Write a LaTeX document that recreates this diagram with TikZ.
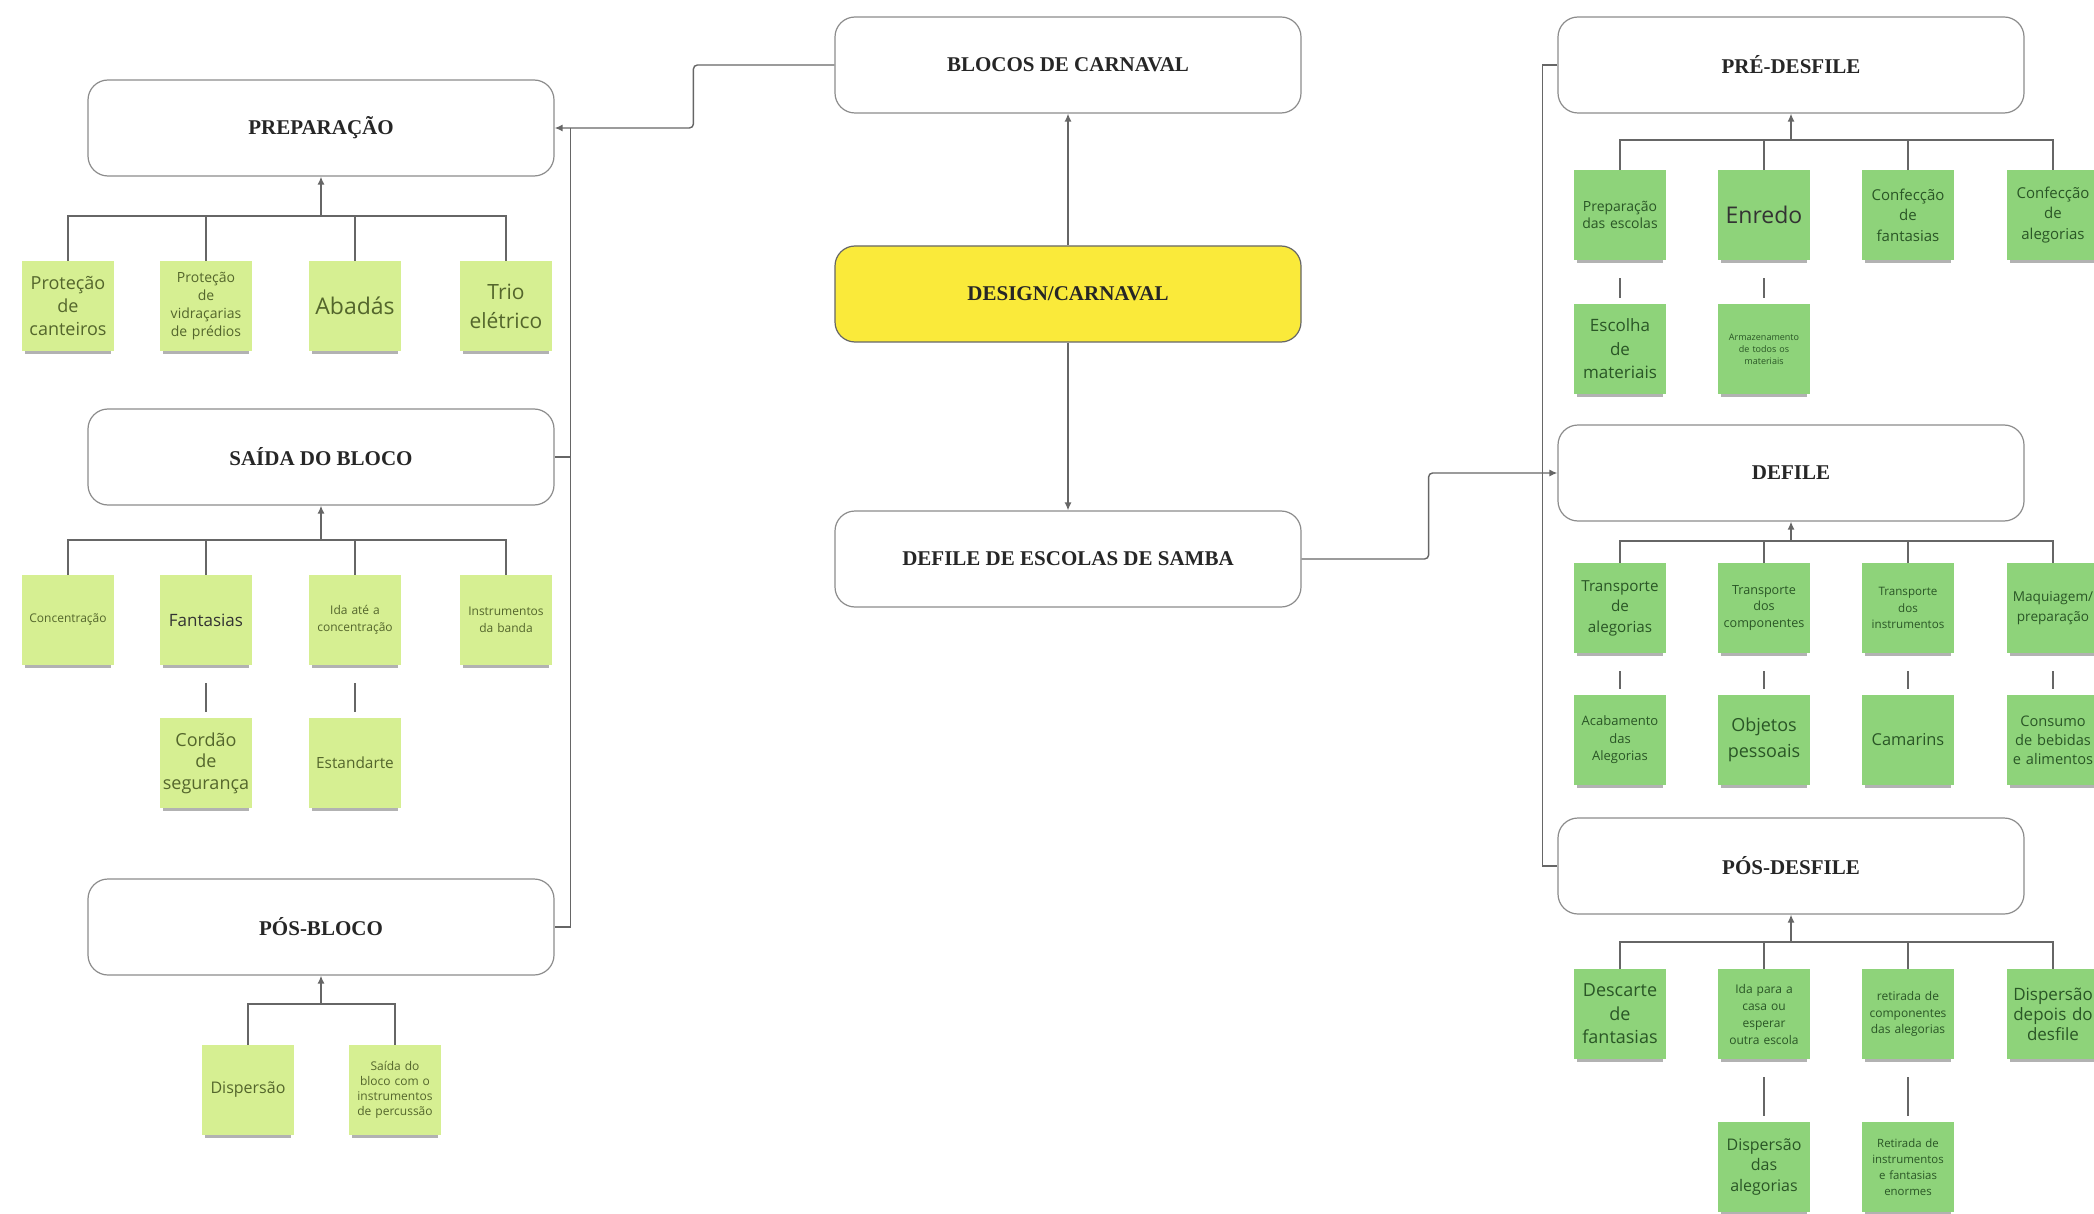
\documentclass[tikz,border=0pt]{standalone}
\usepackage{fontspec}
\setmainfont{Liberation Serif}
\newfontfamily\stickfont{Open Sans}
\usetikzlibrary{arrows.meta,positioning,shadows}

\definecolor{hubyellow}{RGB}{250,234,58}
\definecolor{limefill}{RGB}{214,239,146}
\definecolor{leaffill}{RGB}{142,211,122}
\definecolor{limetext}{RGB}{84,102,44}
\definecolor{leaftext}{RGB}{42,86,38}

\begin{document}
\begin{tikzpicture}[x=0.5pt,y=-0.5pt]
	\tikzstyle{hdr}=[draw=black!45, line width=0.6pt, rounded corners=10pt, fill=white, minimum width=233pt, minimum height=48pt, font=\fontsize{10.5}{12}\selectfont\bfseries, text=black!85]
	\tikzstyle{hub}=[hdr, fill=hubyellow, draw=black!60]
	\tikzstyle{note}=[minimum width=46pt, minimum height=45pt, text width=45pt, align=center, inner sep=0.5pt, general shadow={shadow yshift=-3pt, shadow scale=0.94, fill=black, opacity=0.3}]
	\tikzstyle{limenote}=[note, fill=limefill, text=limetext]
	\tikzstyle{leafnote}=[note, fill=leaffill, text=leaftext]
	\tikzstyle{conn}=[draw=black!60, line width=0.7pt]
	\tikzstyle{trig}=[conn, -{Latex[length=4pt,width=3.5pt]}]
	\tikzstyle{stub}=[conn, shorten <=9pt, shorten >=3pt]
	\tikzset{sz/.style 2 args={font=\stickfont\fontsize{#1}{#2}\selectfont}}

	\useasboundingbox (0,0) rectangle (2094,1214);

	% centre
	\node[hdr] (blocos) at (1068,65) {BLOCOS DE CARNAVAL};
	\node[hub] (design) at (1068,294) {DESIGN/CARNAVAL};
	\node[hdr] (desfesc) at (1068,559) {DEFILE DE ESCOLAS DE SAMBA};
	\draw[trig] (design) -- (blocos);
	\draw[trig] (design) -- (desfesc);

	% blocos
	\node[hdr] (prep) at (321,128) {PREPARAÇÃO};
	\node[hdr] (saida) at (321,457) {SAÍDA DO BLOCO};
	\node[hdr] (posb) at (321,927) {PÓS-BLOCO};
	\draw[trig, rounded corners=2pt] (blocos.west) -- ++(-141,0) |- (prep.east);
	\draw[conn] (prep.east) ++(16,0) |- (posb.east);
	\draw[conn] (saida.east) -- ++(16,0);

	\node[limenote, sz={9}{11.7}] (p1) at (68,306) {Proteção\\de\\canteiros};
	\node[limenote, sz={7}{9}] (p2) at (206,306) {Proteção\\de\\vidraçarias\\de prédios};
	\node[limenote, sz={11.5}{15}] (p3) at (355,306) {Abadás};
	\node[limenote, sz={10.5}{14.5}] (p4) at (506,306) {Trio\\elétrico};
	\coordinate (pbus) at (321,216);
	\draw[conn] (p1.north) |- (pbus) -| (p4.north);
	\foreach \n in {p2,p3} \draw[conn] (\n.north) -- (\n.north |- pbus);
	\draw[trig] (pbus) -- (prep.south);

	\node[limenote, sz={6}{8}] (s1) at (68,620) {Concentração};
	\node[limenote, sz={8.5}{11}, text=black!80] (s2) at (206,620) {Fantasias};
	\node[limenote, sz={6}{8.3}] (s3) at (355,620) {Ida até a\\concentração};
	\node[limenote, sz={6}{8.3}] (s4) at (506,620) {Instrumentos\\da banda};
	\node[limenote, sz={9}{10.7}] (s5) at (206,763) {Cordão\\de\\segurança};
	\node[limenote, sz={7.7}{10}] (s6) at (355,763) {Estandarte};
	\coordinate (sbus) at (321,540);
	\draw[conn] (s1.north) |- (sbus) -| (s4.north);
	\foreach \n in {s2,s3} \draw[conn] (\n.north) -- (\n.north |- sbus);
	\draw[trig] (sbus) -- (saida.south);
	\draw[stub] (s2.south) -- (s5.north);
	\draw[stub] (s3.south) -- (s6.north);

	\node[limenote, sz={8}{10}] (b1) at (248,1090) {Dispersão};
	\node[limenote, sz={6}{7.5}] (b2) at (395,1090) {Saída do\\bloco com o\\instrumentos\\de percussão};
	\coordinate (bbus) at (321,1004);
	\draw[conn] (b1.north) |- (bbus) -| (b2.north);
	\draw[trig] (bbus) -- (posb.south);

	% desfile
	\node[hdr] (pre) at (1791,65) {PRÉ-DESFILE};
	\node[hdr] (defile) at (1791,473) {DEFILE};
	\node[hdr] (posd) at (1791,866) {PÓS-DESFILE};
	\draw[trig, rounded corners=2pt] (desfesc.east) -- ++(127,0) |- (defile.west);
	\draw[conn] (pre.west) -- ++(-15,0) |- (posd.west);

	\node[leafnote, sz={7}{8.7}] (r1) at (1620,215) {Preparação\\das escolas};
	\node[leafnote, sz={11.5}{15}, text=black!80] (r2) at (1764,215) {Enredo};
	\node[leafnote, sz={7.5}{10.3}] (r3) at (1908,215) {Confecção\\de\\fantasias};
	\node[leafnote, sz={7.5}{10.3}] (r4) at (2053,215) {Confecção\\de\\alegorias};
	\node[leafnote, sz={8.5}{11.7}] (r5) at (1620,349) {Escolha\\de\\materiais};
	\node[leafnote, sz={4.5}{6}] (r6) at (1764,349) {Armazenamento\\de todos os\\materiais};
	\coordinate (rbus) at (1791,140);
	\draw[conn] (r1.north) |- (rbus) -| (r4.north);
	\foreach \n in {r2,r3} \draw[conn] (\n.north) -- (\n.north |- rbus);
	\draw[trig] (rbus) -- (pre.south);
	\draw[stub] (r1.south) -- (r5.north);
	\draw[stub] (r2.south) -- (r6.north);

	\node[leafnote, sz={7.6}{10.3}] (d1) at (1620,608) {Transporte\\de\\alegorias};
	\node[leafnote, sz={6.3}{8.3}] (d2) at (1764,608) {Transporte\\dos\\componentes};
	\node[leafnote, sz={5.8}{8.3}] (d3) at (1908,608) {Transporte\\dos\\instrumentos};
	\node[leafnote, sz={6.8}{10}] (d4) at (2053,608) {Maquiagem/\\preparação};
	\node[leafnote, sz={6.5}{8.7}] (d5) at (1620,740) {Acabamento\\das\\Alegorias};
	\node[leafnote, sz={9}{12.7}] (d6) at (1764,740) {Objetos\\pessoais};
	\node[leafnote, sz={8.2}{10}] (d7) at (1908,740) {Camarins};
	\node[leafnote, sz={7.3}{9.4}] (d8) at (2053,740) {Consumo\\de bebidas\\e alimentos};
	\coordinate (dbus) at (1791,541);
	\draw[conn] (d1.north) |- (dbus) -| (d4.north);
	\foreach \n in {d2,d3} \draw[conn] (\n.north) -- (\n.north |- dbus);
	\draw[trig] (dbus) -- (defile.south);
	\foreach \a/\b in {d1/d5,d2/d6,d3/d7,d4/d8} \draw[stub] (\a.south) -- (\b.north);

	\node[leafnote, sz={9}{11.7}] (q1) at (1620,1014) {Descarte\\de\\fantasias};
	\node[leafnote, sz={6}{8.5}] (q2) at (1764,1014) {Ida para a\\casa ou\\esperar\\outra escola};
	\node[leafnote, sz={6}{8.3}] (q3) at (1908,1014) {retirada de\\componentes\\das alegorias};
	\node[leafnote, sz={8.5}{10}] (q4) at (2053,1014) {Dispersão\\depois do\\desfile};
	\node[leafnote, sz={8}{10.3}] (q5) at (1764,1167) {Dispersão\\das\\alegorias};
	\node[leafnote, sz={5.7}{8}] (q6) at (1908,1167) {Retirada de\\instrumentos\\e fantasias\\enormes};
	\coordinate (qbus) at (1791,942);
	\draw[conn] (q1.north) |- (qbus) -| (q4.north);
	\foreach \n in {q2,q3} \draw[conn] (\n.north) -- (\n.north |- qbus);
	\draw[trig] (qbus) -- (posd.south);
	\draw[stub] (q2.south) -- (q5.north);
	\draw[stub] (q3.south) -- (q6.north);
\end{tikzpicture}
\end{document}
